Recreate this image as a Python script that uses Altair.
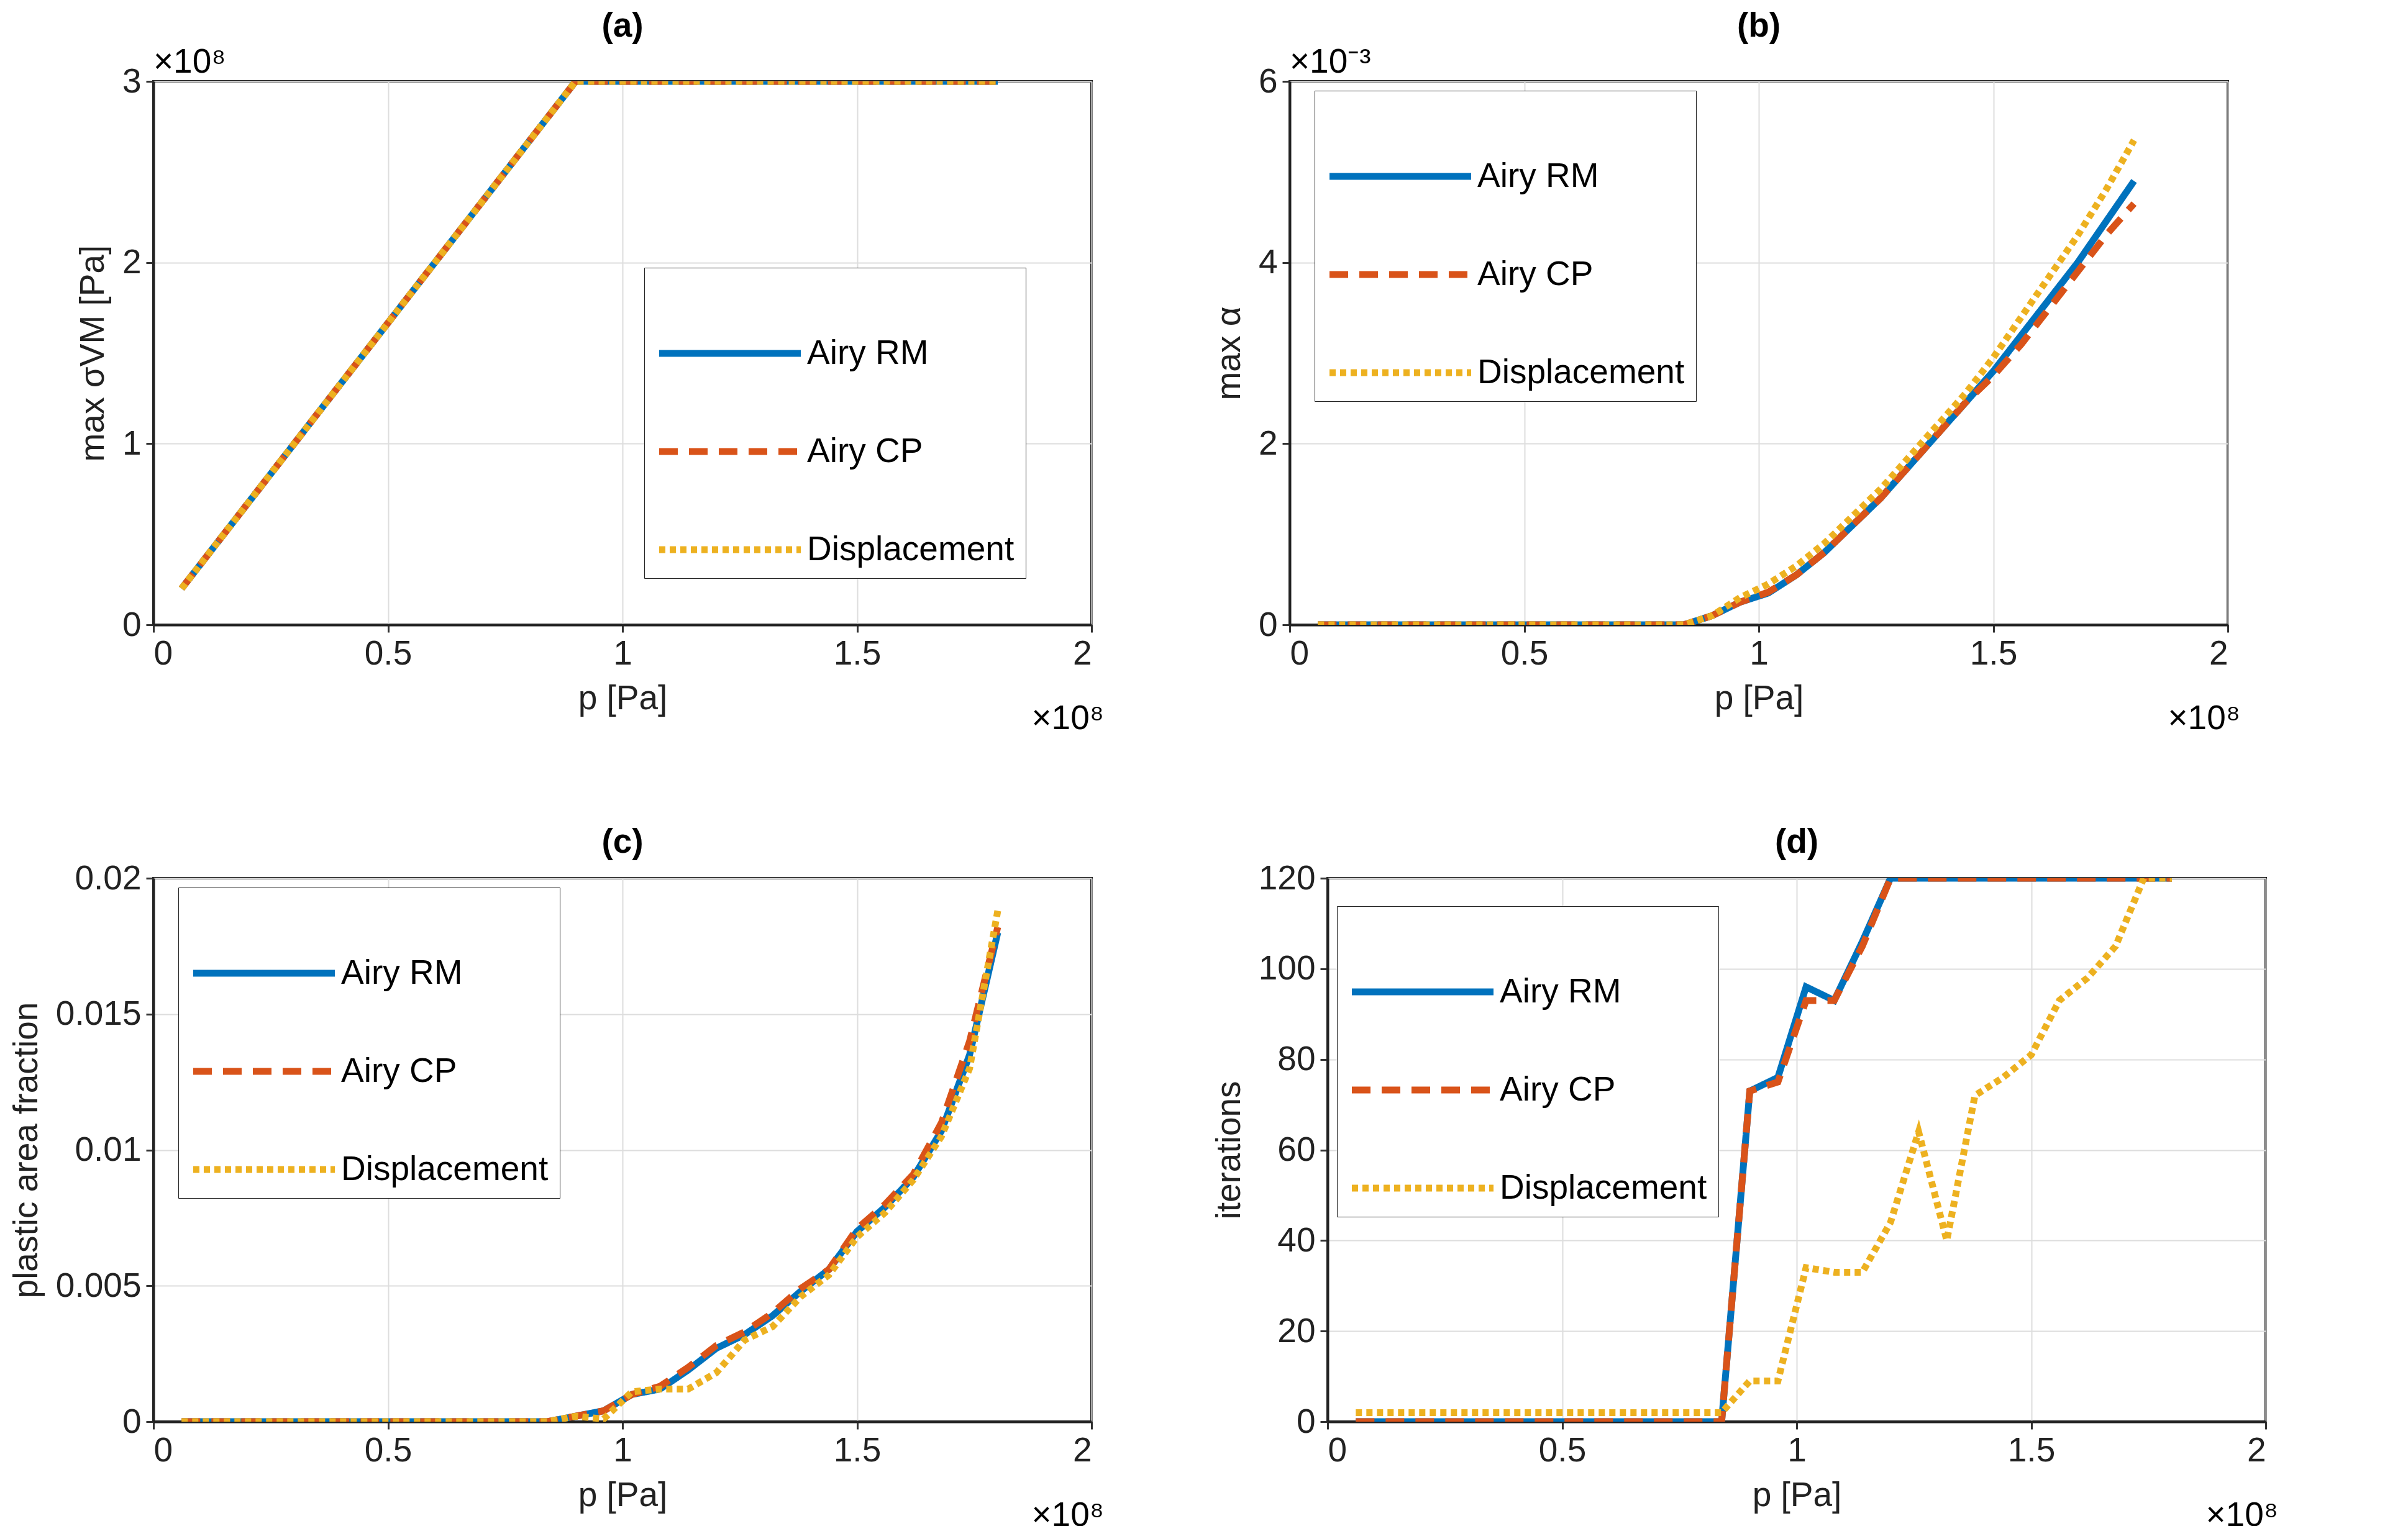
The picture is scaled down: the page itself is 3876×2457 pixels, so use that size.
import altair as alt
import pandas as pd

p = [round(0.06 * i, 2) for i in range(1, 31)]  # x 1e8 Pa

n0 = 14  # points up to p = 0.84
sig_rm = [round(min(3.333 * v, 3.0), 3) for v in p[:15]] + [3.0] * 15
sig_cp = list(sig_rm)
sig_disp = list(sig_rm)

alpha_rm = [0] * n0 + [0.1, 0.25, 0.35, 0.55, 0.8, 1.1, 1.4, 1.75, 2.1, 2.45, 2.8, 3.2, 3.6, 4.0, 4.45, 4.9]
alpha_cp = [0] * n0 + [0.1, 0.25, 0.36, 0.55, 0.8, 1.1, 1.4, 1.75, 2.1, 2.45, 2.75, 3.1, 3.5, 3.9, 4.3, 4.65]
alpha_disp = [0] * n0 + [0.1, 0.3, 0.45, 0.65, 0.9, 1.2, 1.5, 1.85, 2.2, 2.55, 2.95, 3.4, 3.85, 4.3, 4.8, 5.35]

frac_rm = [0] * n0 + [0.0002, 0.0004, 0.001, 0.0012, 0.0019, 0.0027, 0.0032, 0.0039, 0.0048, 0.0056, 0.0070, 0.0079, 0.0090, 0.0107, 0.0135, 0.0180]
frac_cp = [0] * n0 + [0.0002, 0.0004, 0.001, 0.0013, 0.0020, 0.0028, 0.0033, 0.0040, 0.0049, 0.0056, 0.0071, 0.0080, 0.0091, 0.0110, 0.0140, 0.0182]
frac_disp = [0] * n0 + [0.0002, 0.0001, 0.0011, 0.0012, 0.0012, 0.0018, 0.0030, 0.0035, 0.0046, 0.0054, 0.0068, 0.0077, 0.0089, 0.0105, 0.0130, 0.0188]

it_rm = [0] * n0 + [73, 76, 96, 93, 106, 120] + [120] * 10
it_cp = [0] * n0 + [73, 75, 93, 93, 105, 120] + [120] * 10
it_disp = [2] * n0 + [9, 9, 34, 33, 33, 44, 64, 40, 72, 76, 81, 93, 98, 105, 120, 120]

series = ["Airy RM", "Airy CP", "Displacement"]
colors = ["#0072BD", "#D95319", "#EDB120"]
dashes = [[1, 0], [30, 18], [10, 7]]

W, H = 1510, 875
FS = 55


def panel(ys, title, ytitle, ydomain, ystep, legxy, yfmt, exp_top=None):
    rows = []
    for s, vals in zip(series, ys):
        for x, y in zip(p, vals):
            rows.append({"p": x, "v": y, "series": s})
    df = pd.DataFrame(rows)
    ticks = []
    t = ydomain[0]
    while t <= ydomain[1] + 1e-12:
        ticks.append(round(t, 6))
        t += ystep
    lines = (
        alt.Chart(df)
        .mark_line(strokeWidth=11, clip=True)
        .encode(
            x=alt.X("p:Q", title="p [Pa]", scale=alt.Scale(domain=[0, 2], nice=False),
                    axis=alt.Axis(values=[0, 0.5, 1, 1.5, 2], format="~g")),
            y=alt.Y("v:Q", title=ytitle, scale=alt.Scale(domain=ydomain, nice=False),
                    axis=alt.Axis(values=ticks, format=yfmt)),
            color=alt.Color("series:N", scale=alt.Scale(domain=series, range=colors),
                            sort=series, title=None,
                            legend=alt.Legend(orient="none", legendX=legxy[0], legendY=legxy[1])),
            strokeDash=alt.StrokeDash("series:N", scale=alt.Scale(domain=series, range=dashes),
                                      sort=series, title=None,
                                      legend=alt.Legend(orient="none", legendX=legxy[0], legendY=legxy[1])),
        )
    )
    anno = pd.DataFrame({"t": ["×10⁸"]})
    layers = [lines,
              alt.Chart(anno).mark_text(fontSize=FS, align="right", baseline="top", font="Liberation Sans")
              .encode(text="t:N", x=alt.value(W + 20), y=alt.value(H + 125))]
    if exp_top:
        layers.append(
            alt.Chart(pd.DataFrame({"t": [exp_top]}))
            .mark_text(fontSize=FS, align="left", baseline="bottom", font="Liberation Sans")
            .encode(text="t:N", x=alt.value(0), y=alt.value(-2))
        )
    return alt.layer(*layers).properties(
        width=W, height=H,
        title=alt.TitleParams(title, fontSize=FS, fontWeight="bold", offset=2),
    ).resolve_scale(color="independent", strokeDash="independent")


a = panel([sig_rm, sig_cp, sig_disp], "(a)", "max σVM [Pa]", [0, 3], 1, (790, 300), "~g", "×10⁸")
b = panel([alpha_rm, alpha_cp, alpha_disp], "(b)", "max α", [0, 6], 2, (40, 15), "~g", "×10⁻³")
c = panel([frac_rm, frac_cp, frac_disp], "(c)", "plastic area fraction", [0, 0.02], 0.005, (40, 15), "~g")
d = panel([it_rm, it_cp, it_disp], "(d)", "iterations", [0, 120], 20, (15, 45), "d")

chart = (
    alt.vconcat(alt.hconcat(a, b, spacing=170), alt.hconcat(c, d, spacing=170), spacing=140)
    .resolve_scale(color="independent", strokeDash="independent")
    .resolve_legend(color="independent", strokeDash="independent")
    .configure(font="Liberation Sans")
    .configure_view(stroke="#222", strokeWidth=4)
    .configure_axis(labelFontSize=FS, titleFontSize=FS, titleFontWeight="normal",
                    labelColor="#222", titleColor="#222", domain=True, domainColor="#222",
                    domainWidth=4, tickColor="#333", tickSize=12, tickWidth=3,
                    gridColor="#dddddd", gridWidth=2, labelPadding=8, titlePadding=18)
    .configure_legend(labelFontSize=FS, symbolType="stroke", symbolStrokeWidth=11,
                      symbolSize=52000, strokeColor="#222", fillColor="white",
                      padding=18, rowPadding=10, labelColor="black", labelLimit=800)
    .configure_title(color="black")
)

chart.save("out.html", embed_options={"renderer": "svg", "actions": False})
